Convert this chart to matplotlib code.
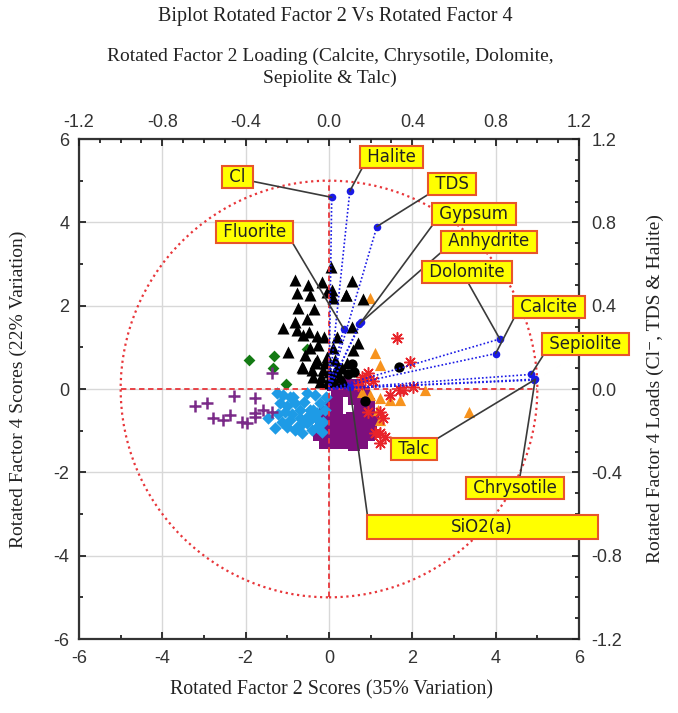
import matplotlib
matplotlib.use('Agg')
import matplotlib.pyplot as plt
from matplotlib.patches import Circle, Rectangle
from matplotlib.ticker import MultipleLocator, FormatStrFormatter
import numpy as np

plt.rcParams['axes.unicode_minus'] = False
plt.rcParams['font.family'] = ['Liberation Sans', 'DejaVu Sans']

# ---------------- score data (Rotated Factor 2 vs Rotated Factor 4) ----------------
black_tri_x = [0.05, -0.82, -0.50, -0.18, 0.56, -0.78, -0.46, -0.06, 0.10, 0.41, 0.81,
               -0.74, -0.36, -0.54, -0.82, -1.10, -0.78, -0.47, -0.63, -0.30, -0.12, 0.54,
               0.70, 0.58, -0.98, -0.58, -0.30, -0.06, -0.66, -0.42, -0.14, 0.18, 0.42,
               0.06, -0.22, -0.06, -0.38, 0.26, -0.46, -0.26, 0.10, 0.18, 0.06, 0.40,
               -0.62, -0.10, 0.00, 0.20, 0.30, -0.20, 0.12, -0.34, 0.34, 0.14]
black_tri_y = [2.92, 2.62, 2.50, 2.58, 2.59, 2.30, 2.26, 2.34, 2.18, 2.26, 2.16,
               1.94, 1.92, 1.67, 1.62, 1.47, 1.42, 1.38, 1.30, 1.27, 1.24, 1.50,
               1.10, 0.94, 0.90, 0.82, 0.70, 0.78, 0.54, 0.46, 0.46, 0.54, 0.62,
               0.30, 0.18, 0.14, 0.30, 0.30, 0.98, 1.06, 0.98, 1.24, 2.38, 2.26,
               0.50, 0.62, 0.40, 0.40, 0.50, 0.30, 0.20, 0.62, 0.20, 0.70]

orange_tri_x = [0.98, 1.10, 1.22, 2.30, 3.36, 0.78, 0.98, 1.22, 1.46, 1.70, 1.22, 1.18]
orange_tri_y = [2.19, 0.86, 0.57, -0.02, -0.55, -0.06, -0.14, -0.22, -0.26, -0.26, -0.74, -0.50]

red_ast_x = [1.62, 1.94, 0.94, 0.78, 2.02, 1.70, 1.46, 0.94, 1.22, 1.30, 1.22, 1.34,
             0.86, 1.78, 1.10, 1.22, 0.70, 1.05]
red_ast_y = [1.22, 0.66, 0.38, 0.30, 0.06, -0.02, -0.14, -0.54, -0.54, -0.70, -1.06, -1.14,
             0.22, -0.02, -1.06, -1.30, 0.10, 0.20]

purple_sq_x = [0.10, 0.30, 0.50, 0.70, 0.20, 0.45, 0.65, 0.85,
               0.05, 0.20, 0.60, 0.80, 0.95,
               0.05, 0.20, 0.75, 0.95, -0.10,
               0.00, 0.15, 0.35, 0.55, 0.75, 0.95, 1.05, -0.20,
               -0.10, 0.10, 0.30, 0.50, 0.70, 0.90, 1.00,
               -0.25, 0.00, 0.20, 0.40, 0.60, 0.80, 0.95,
               -0.10, 0.15, 0.40, 0.60, 0.80]
purple_sq_y = [0.10, 0.15, 0.10, 0.10, -0.05, -0.05, -0.05, -0.10,
               -0.30, -0.30, -0.25, -0.30, -0.35,
               -0.50, -0.50, -0.50, -0.50, -0.55,
               -0.70, -0.70, -0.75, -0.70, -0.70, -0.70, -0.75, -0.80,
               -0.90, -0.90, -0.95, -0.90, -0.90, -0.90, -0.95,
               -1.10, -1.10, -1.15, -1.10, -1.10, -1.10, -1.10,
               -1.30, -1.30, -1.30, -1.35, -1.30]

blue_dia_x = [-1.26, -0.94, -0.82, -0.54, -0.34, -0.70, -0.46, -0.30, -1.46, -1.30,
              -1.06, -0.94, -0.78, -0.54, -0.30, -0.18, -1.14, -0.82, -0.42, -1.18,
              -0.22, -1.10, -0.86, -0.38, -0.62, -0.26, -0.54, -0.08,
              -1.00, -0.60, -0.90, -0.70, -0.40, -1.22, -0.10, -0.15, -1.00, -0.66]
blue_dia_y = [-0.10, -0.18, -0.34, -0.10, -0.14, -0.50, -0.50, -0.58, -0.70, -0.94,
              -0.54, -0.74, -0.90, -0.82, -0.90, -1.02, -0.78, -0.98, -0.98, -0.34,
              -0.34, -0.14, -0.18, -0.50, -0.82, -0.74, -0.66, -0.20,
              -0.40, -0.30, -0.60, -0.70, -0.70, -0.60, -0.50, -0.80, -0.90, -1.05]

green_dia_x = [-1.92, -1.32, -0.52, -1.03, -1.34]
green_dia_y = [0.70, 0.79, 0.95, 0.12, 0.50]

purple_plus_x = [-3.22, -2.94, -2.78, -2.54, -2.38, -2.28, -2.10, -1.98, -1.78, -1.78,
                 -1.58, -1.38, -1.38, -1.78]
purple_plus_y = [-0.41, -0.33, -0.70, -0.74, -0.62, -0.16, -0.78, -0.82, -0.22, -0.58,
                 -0.50, -0.54, 0.38, -0.66]

black_circ_x = [1.68, 0.55, 0.60, 0.86, 0.45]
black_circ_y = [0.52, 0.60, 0.40, -0.28, 0.35]

# ---------------- loadings ----------------
variables = ['Cl', 'Halite', 'TDS', 'Gypsum', 'Anhydrite', 'Fluorite', 'Dolomite',
             'Calcite', 'Sepiolite', 'Chrysotile', 'Talc', 'SiO2(a)']
load_x = [0.013, 0.10, 0.23, 0.146, 0.154, 0.07, 0.82, 0.80, 0.97, 0.99, 0.985, 0.10]
load_y = [0.92, 0.95, 0.78, 0.31, 0.32, 0.29, 0.24, 0.17, 0.07, 0.047, 0.043, 0.008]

# label layout (score coordinates of label centre, leader anchor on box)
label_pos = {
    'Cl': ((-2.20, 5.08), (1.0, 0.3)),
    'Halite': ((1.49, 5.57), (0.03, 0.0)),
    'TDS': ((2.95, 4.91), (0.0, 0.0)),
    'Gypsum': ((3.48, 4.21), (0.0, 0.0)),
    'Anhydrite': ((3.84, 3.54), (0.0, 0.0)),
    'Fluorite': ((-1.79, 3.78), (1.0, 0.0)),
    'Dolomite': ((3.32, 2.80), (0.5, 0.0)),
    'Calcite': ((5.28, 1.98), (0.0, 0.0)),
    'Sepiolite': ((6.16, 1.07), (0.0, 0.0)),
    'Chrysotile': ((4.46, -2.38), (0.55, 1.0)),
    'Talc': ((2.04, -1.44), (1.0, 1.0)),
}

W, H = 678, 713
fig = plt.figure(figsize=(W / 100, H / 100), dpi=100)
pos = [79 / W, 1 - 639 / H, 500 / W, 500 / H]
ax = fig.add_axes(pos)
ax_l = fig.add_axes(pos)

SERIF = ['Liberation Serif', 'DejaVu Serif']

# ---- score axes ----
ax.set_xlim(-6, 6)
ax.set_ylim(-6, 6)
ax.xaxis.set_major_locator(MultipleLocator(2))
ax.xaxis.set_minor_locator(MultipleLocator(1))
ax.yaxis.set_major_locator(MultipleLocator(2))
ax.yaxis.set_minor_locator(MultipleLocator(1))
ax.tick_params(which='both', direction='in', top=False, right=False, colors='#222222',
               labelcolor='#333333', labelsize=13, width=1.3)
ax.tick_params(axis='x', which='major', pad=8)
ax.tick_params(axis='y', which='major', pad=7)
ax.tick_params(which='major', length=5)
ax.tick_params(which='minor', length=3)
ax.grid(True, which='major', color='#d8d8d8', lw=1.0, zorder=0)
ax.set_axisbelow(True)
for s in ax.spines.values():
    s.set_color('#333333')
    s.set_linewidth(1.6)

ax.scatter(purple_sq_x, purple_sq_y, marker='s', s=70, c='#7d0f7d', zorder=3, lw=0)
ax.scatter(blue_dia_x, blue_dia_y, marker='D', s=40, c='#1e9be6', zorder=3, lw=0)
ax.scatter(green_dia_x, green_dia_y, marker='D', s=36, c='#137a13', zorder=3, lw=0)
ax.scatter(purple_plus_x, purple_plus_y, marker='+', s=70, c='#7a2a88', zorder=3, lw=1.8)
ax.scatter(orange_tri_x, orange_tri_y, marker='^', s=65, c='#f7931e', zorder=3, lw=0)
ax.scatter(red_ast_x, red_ast_y, marker=(8, 2, 0), s=70, c='#e8242a', zorder=3, lw=1.1)
ax.scatter(black_tri_x, black_tri_y, marker='^', s=75, c='black', zorder=4, lw=0)
ax.scatter(black_circ_x, black_circ_y, marker='o', s=55, c='black', zorder=4, lw=0)

# ---- loading axes ----
ax_l.set_xlim(-1.2, 1.2)
ax_l.set_ylim(-1.2, 1.2)
ax_l.patch.set_visible(False)
for s in ax_l.spines.values():
    s.set_visible(False)
ax_l.xaxis.tick_top()
ax_l.yaxis.tick_right()
ax_l.xaxis.set_major_locator(MultipleLocator(0.4))
ax_l.xaxis.set_minor_locator(MultipleLocator(0.1))
ax_l.yaxis.set_major_locator(MultipleLocator(0.4))
ax_l.yaxis.set_minor_locator(MultipleLocator(0.1))
ax_l.xaxis.set_major_formatter(FormatStrFormatter('%.1f'))
ax_l.yaxis.set_major_formatter(FormatStrFormatter('%.1f'))
ax_l.tick_params(which='both', direction='in', colors='#222222', labelcolor='#333333',
                 labelsize=13, width=1.3)
ax_l.tick_params(axis='y', which='major', pad=9)
ax_l.tick_params(axis='x', which='major', pad=6)
ax_l.tick_params(which='major', length=5)
ax_l.tick_params(which='minor', length=3)

red = '#e8363a'
ax_l.add_patch(Circle((0, 0), 1.0, fill=False, ec=red, lw=1.6, ls=(0, (1, 1.6)), zorder=5))
ax_l.plot([-1, 1], [0, 0], color=red, lw=1.3, ls=(0, (3, 2)), zorder=5)
ax_l.plot([0, 0], [-1, 1], color=red, lw=1.3, ls=(0, (3, 2)), zorder=5)

blue = '#1a1ae6'
for lx, ly in zip(load_x, load_y):
    ax_l.plot([0, lx], [0, ly], color=blue, lw=1.2, ls=(0, (1, 1.3)), zorder=6)
ax_l.scatter(load_x, load_y, s=30, c=blue, zorder=7, lw=0)

box = dict(boxstyle='square,pad=0.12', fc='#ffff00', ec='#e8552a', lw=1.5)
for name, lx, ly in zip(variables, load_x, load_y):
    if name not in label_pos:
        continue
    (tx, ty), rel = label_pos[name]
    ax_l.annotate(' ' + name + ' ', xy=(lx, ly), xycoords='data',
                  xytext=(tx, ty), textcoords=ax.transData,
                  ha='center', va='center', fontsize=12, family='DejaVu Sans',
                  color='#222222', bbox=box, zorder=10, annotation_clip=False,
                  arrowprops=dict(arrowstyle='-', color='#3a3a3a', lw=1.2,
                                  relpos=rel, shrinkA=0, shrinkB=0))

# SiO2(a) wide label box
i_si = variables.index('SiO2(a)')
ax_l.annotate('', xy=(load_x[i_si], load_y[i_si]), xycoords='data',
              xytext=(0.92, -3.02), textcoords=ax.transData, annotation_clip=False,
              arrowprops=dict(arrowstyle='-', color='#3a3a3a', lw=1.2, shrinkA=0, shrinkB=0),
              zorder=9)
ax_l.add_patch(Rectangle((0.92, -3.61), 5.54, 0.59, transform=ax.transData, fc='#ffff00',
                         ec='#e8552a', lw=1.5, zorder=10, clip_on=False))
ax_l.text(3.67, -3.31, 'SiO2(a)', transform=ax.transData, ha='center', va='center',
          fontsize=12, family='DejaVu Sans', color='#222222', zorder=11)

# ---- titles and axis labels ----
fig.text(335 / W, 1 - 17 / H, 'Biplot Rotated Factor 2 Vs Rotated Factor 4', ha='center',
         va='center', fontsize=14.5, family=SERIF, color='#222222')
fig.text(330 / W, 1 - 56 / H, 'Rotated Factor 2 Loading (Calcite, Chrysotile, Dolomite,',
         ha='center', va='center', fontsize=14, family=SERIF, color='#222222')
fig.text(330 / W, 1 - 78 / H, 'Sepiolite & Talc)', ha='center', va='center', fontsize=14,
         family=SERIF, color='#222222')
fig.text(332 / W, 1 - 690 / H, 'Rotated Factor 2 Scores (35% Variation)', ha='center',
         va='center', fontsize=14.3, family=SERIF, color='#222222')
fig.text(18 / W, 1 - 389 / H, 'Rotated Factor 4 Scores (22% Variation)', ha='center',
         va='center', rotation=90, fontsize=14, family=SERIF, color='#222222')
fig.text(655 / W, 1 - 389 / H, 'Rotated Factor 4 Loads (Cl\u207b, TDS & Halite)', ha='center',
         va='center', rotation=90, fontsize=14, family=SERIF, color='#222222')

fig.savefig('out.png', dpi=100)
